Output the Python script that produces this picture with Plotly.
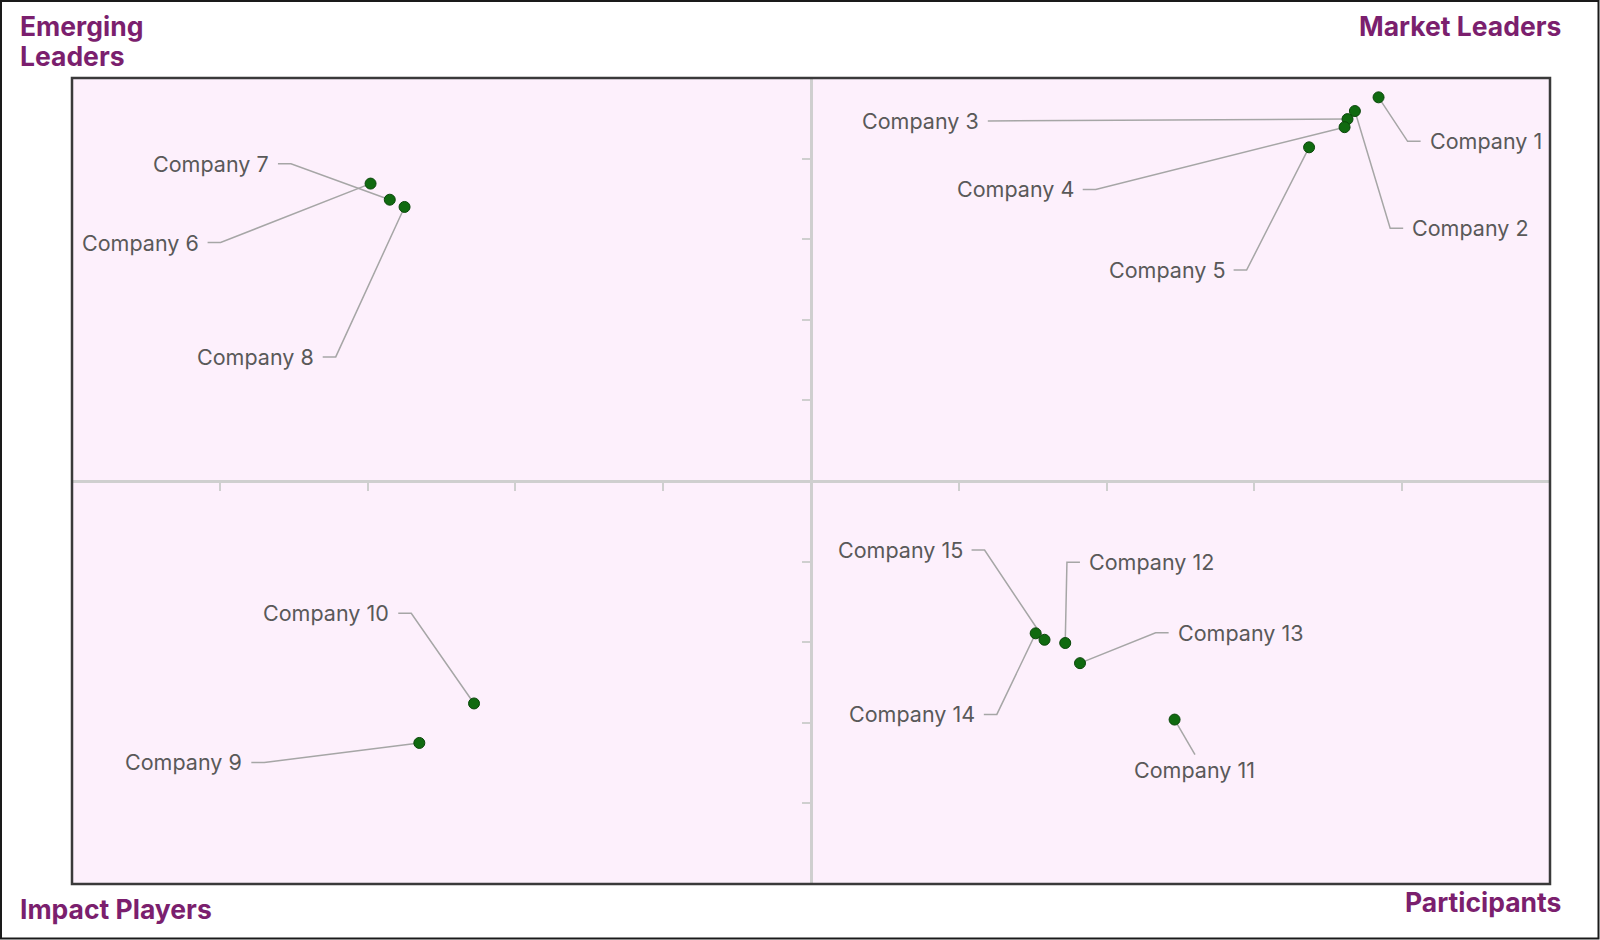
import plotly.graph_objects as go

# ---------------- data ----------------
companies = ["Company 1", "Company 2", "Company 3", "Company 4", "Company 5",
             "Company 6", "Company 7", "Company 8", "Company 9", "Company 10",
             "Company 11", "Company 12", "Company 13", "Company 14", "Company 15"]
x_vals = [8.84, 8.68, 8.63, 8.61, 8.37, 2.02, 2.15, 2.25, 2.35, 2.72, 7.46, 6.72, 6.82, 6.52, 6.58]
y_vals = [9.76, 9.59, 9.49, 9.39, 9.14, 8.69, 8.49, 8.40, 1.75, 2.24, 2.04, 2.99, 2.74, 3.11, 3.03]

quadrant_titles = ["Emerging Leaders", "Market Leaders", "Impact Players", "Participants"]

# ---------------- label layout (positions, not data) ----------------
label_pos = [
    (9.172, 9.214, "right"), (9.054, 8.137, "right"), (6.149, 9.468, "left"),
    (6.791, 8.618, "left"), (7.812, 7.617, "left"), (0.870, 7.959, "left"),
    (1.346, 8.935, "left"), (1.649, 6.540, "left"), (1.166, 1.508, "left"),
    (2.160, 3.359, "left"), (7.598, 1.420, "below"), (6.867, 3.992, "right"),
    (7.467, 3.118, "right"), (6.122, 2.104, "left"), (6.039, 4.144, "left"),
]

W, H = 1600, 940
L, R, T, B = 72, 50, 78, 56
PW, PH = W - L - R, H - T - B
XR, YR = (0, 10), (0, 10)
PXX = PW / (XR[1] - XR[0])
PXY = PH / (YR[1] - YR[0])

def px_x(px):
    return (px - L) / PW

def px_y(py):
    return (H - B - py) / PH

GAP = 7 / PXX
SEG = 13 / PXX

lx_lines, ly_lines = [], []
annotations = []
for name, x, y, (lx, ly, side) in zip(companies, x_vals, y_vals, label_pos):
    if side == "right":
        end = lx - GAP
        elbow = end - SEG
        lx_lines += [x, elbow, end, None]
        ly_lines += [y, ly, ly, None]
        xa = "left"
    elif side == "left":
        end = lx + GAP
        elbow = end + SEG
        lx_lines += [x, elbow, end, None]
        ly_lines += [y, ly, ly, None]
        xa = "right"
    else:
        lx_lines += [x, lx, None]
        ly_lines += [y, ly + 15 / PXY, None]
        xa = "center"
    annotations.append(dict(x=lx, y=ly, xref="x", yref="y", text=name, showarrow=False,
                            xanchor=xa, yanchor="middle",
                            font=dict(family="Inter", size=21.5, color="#595959")))

TITLE_COLOR = "#7B1F6E"
tfont = dict(family="Inter", size=26.5, color=TITLE_COLOR, weight="bold")
em1, em2 = quadrant_titles[0].split(" ", 1)
title_specs = [
    (em1, 18, 25.5, "left"),
    (em2, 18, 56, "left"),
    (quadrant_titles[1], 1563, 25.5, "right"),
    (quadrant_titles[2], 18, 909, "left"),
    (quadrant_titles[3], 1563, 902, "right"),
]
for txt, px, py, xa in title_specs:
    annotations.append(dict(x=px_x(px), y=px_y(py), xref="paper", yref="paper",
                            text="<b>" + txt + "</b>", showarrow=False,
                            xanchor=xa, yanchor="middle", font=tfont))

fig = go.Figure()
fig.add_trace(go.Scatter(x=lx_lines, y=ly_lines, mode="lines",
                         line=dict(color="#A6A6A6", width=1.5), hoverinfo="skip", showlegend=False))
fig.add_trace(go.Scatter(x=x_vals, y=y_vals, mode="markers", text=companies,
                         marker=dict(size=11, color="#106A10", line=dict(color="#0A470A", width=1)),
                         showlegend=False, cliponaxis=False))

axis_common = dict(showline=True, linecolor="#CFCFCF", linewidth=2.5, ticks="outside", ticklen=8,
                   tickwidth=2, tickcolor="#CFCFCF", showticklabels=False, showgrid=False,
                   zeroline=False, anchor="free", position=0.5, domain=[0, 1])

fig.update_layout(
    width=W, height=H,
    margin=dict(l=L, r=R, t=T, b=B, pad=0),
    paper_bgcolor="white", plot_bgcolor="#FDF0FC",
    xaxis=dict(range=list(XR), tickvals=list(range(1, 10)), **axis_common),
    yaxis=dict(range=list(YR), tickvals=list(range(1, 10)), **axis_common),
    annotations=annotations,
    shapes=[
        dict(type="rect", xref="paper", yref="paper", x0=0, x1=1, y0=0, y1=1,
             line=dict(color="#3A3A3A", width=2.5), layer="above"),
        dict(type="rect", xref="paper", yref="paper", x0=px_x(1), x1=px_x(1598.5),
             y0=px_y(938.5), y1=px_y(1), line=dict(color="#1A1A1A", width=2)),
    ],
)

fig.write_html("out.html", config={"displayModeBar": False},
               post_script="document.body.style.margin='0';")
